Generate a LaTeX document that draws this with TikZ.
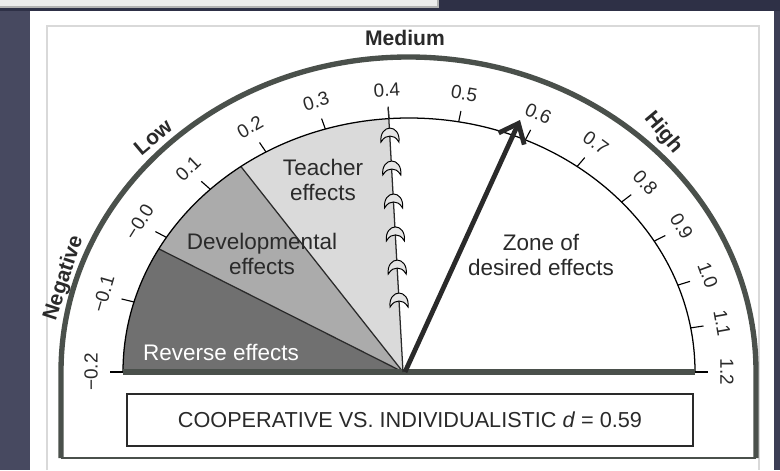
\documentclass[tikz,border=0pt]{standalone}
\usepackage{fontspec}
\setmainfont{Liberation Sans}
\usetikzlibrary{arrows.meta,calc}

\definecolor{slatebg}{HTML}{474960}
\definecolor{slatetop}{HTML}{2E3046}
\definecolor{slateright}{HTML}{3C3E55}
\definecolor{rimgray}{HTML}{4A504B}
\definecolor{revgray}{HTML}{707070}
\definecolor{devgray}{HTML}{ABABAB}
\definecolor{teachgray}{HTML}{DADADA}
\definecolor{inkgray}{HTML}{2A2A2A}

\begin{document}
\begin{tikzpicture}[x=0.025cm, y=0.025cm,
	rim/.style = {line width=3.8pt, color=rimgray},
	rimfoot/.style = {line width=1.8pt, color=rimgray},
	dialline/.style = {line width=0.9pt, color=black},
	scalemark/.style = {line width=0.8pt, color=black},
	groundbar/.style = {line width=4.8pt, color=rimgray},
	sectorline/.style = {line width=0.9pt, color=inkgray},
	zonetext/.style = {align=center, text=inkgray,
	                   font=\fontsize{16}{18}\selectfont},
	ticktext/.style = {text=inkgray, inner sep=0pt,
	                   font=\fontsize{13.5}{13.5}\selectfont},
	bandtext/.style = {text=inkgray, inner sep=0pt,
	                   font=\fontsize{15}{15}\selectfont\bfseries},
	hinge/.style = {fill=teachgray!70, draw=black, line width=0.7pt},
	resultbox/.style = {draw=inkgray, line width=1.4pt, fill=white,
	                    minimum width=14.15cm, minimum height=1.3cm,
	                    text=inkgray, font=\fontsize{15.4}{17}\selectfont}]
	\useasboundingbox (0,0) rectangle (780,470);
	% slide behind the scan
	\fill[slatebg] (0,0) rectangle (780,470);
	\fill[slateright] (774,0) rectangle (780,470);
	\fill[slatetop] (0,459) rectangle (780,470);
	\fill[gray!15] (0,463) rectangle (438,470);
	\draw[gray!60, line width=0.8pt] (0,463) -- (438,463) -- (438,470);
	\fill[white] (30,0) rectangle (774,459);
	\draw[gray!30, line width=1pt] (47,0) -- (47,444) -- (759,444) -- (759,0);

	\coordinate (ctr) at (409,98);
	\coordinate (piv) at (403,98);

	% outer rim
	\draw[rim] (61,12) -- (61,98) arc[start angle=180, end angle=0, x radius=347.5, y radius=315] -- (756,12);
	\draw[rimfoot] (61,12) -- (756,12);

	% sectors
	\coordinate (e151) at ($(ctr)+(151:286 and 254)$);
	\coordinate (e126) at ($(ctr)+(126:286 and 254)$);
	\coordinate (e94) at ($(ctr)+(94:286 and 254)$);
	\coordinate (n4) at ($(ctr)+(94:299 and 266)$);
	\fill[revgray] (piv) -- (123,98) arc[start angle=180, end angle=151, x radius=286, y radius=254] -- cycle;
	\fill[devgray] (piv) -- (e151) arc[start angle=151, end angle=126, x radius=286, y radius=254] -- cycle;
	\fill[teachgray] (piv) -- (e126) arc[start angle=126, end angle=94, x radius=286, y radius=254] -- cycle;
	\draw[sectorline] (piv) -- (e151);
	\draw[sectorline] (piv) -- (e126);

	% dial
	\draw[dialline] (123,98) arc[start angle=180, end angle=0, x radius=286, y radius=254];
	\foreach \lbl/\ang in {−0.2/180, −0.1/164, −0.0/148, 0.1/134, 0.2/120,
	                       0.3/107, 0.4/94, 0.5/80, 0.6/66, 0.7/54, 0.8/42,
	                       0.9/31, 1.0/20, 1.1/10, 1.2/0} {
		\coordinate (ta\ang) at ($(ctr)+(\ang:286 and 254)$);
		\coordinate (tb\ang) at ($(ctr)+(\ang:299 and 265)$);
		\draw[scalemark] (ta\ang) -- (tb\ang);
		\node[ticktext, rotate=\ang-90] (tl\ang) at ($(ctr)+(\ang:318 and 283)$) {\lbl};
	}
	\draw[groundbar] (123,98) -- (695,98);

	% 0.4 needle with hinges
	\draw[sectorline] (piv) -- (n4);
	\foreach \f in {0.935, 0.805, 0.675, 0.545, 0.414, 0.284}
		\filldraw[hinge, shift={($(piv)!\f!(e94)$)}]
			(-9,-7) .. controls (-10,2) and (-5,7) .. (0,7)
			.. controls (5,7) and (10,2) .. (9,-7)
			.. controls (6,-2) and (3,-1) .. (0,-1)
			.. controls (-3,-1) and (-6,-2) .. (-9,-7) -- cycle;

	% effect arrow
	\coordinate (piva) at (405,98);
	\coordinate (tip) at (520,350);
	\draw[line width=3.4pt, color=inkgray, -{Straight Barb[length=12pt, width=20pt]}] (piva) -- (tip);

	% band names
	\node[bandtext] (medium) at (405,432) {Medium};
	\node[bandtext, rotate=40] (low) at (153,333) {Low};
	\node[bandtext, rotate=-50] (high) at (663,337) {High};
	\node[bandtext, rotate=72] (negative) at (64,192) {Negative};

	% zone names
	\node[zonetext] (teacher) at (323,290) {Teacher\\effects};
	\node[zonetext] (develop) at (262,216) {Developmental\\effects};
	\node[zonetext, text=white] (reverse) at (221,118) {Reverse effects};
	\node[zonetext] (desired) at (541,215) {Zone of\\desired effects};

	\node[resultbox] (result) at (410,50) {COOPERATIVE VS. INDIVIDUALISTIC \textit{d} = 0.59};
\end{tikzpicture}
\end{document}
